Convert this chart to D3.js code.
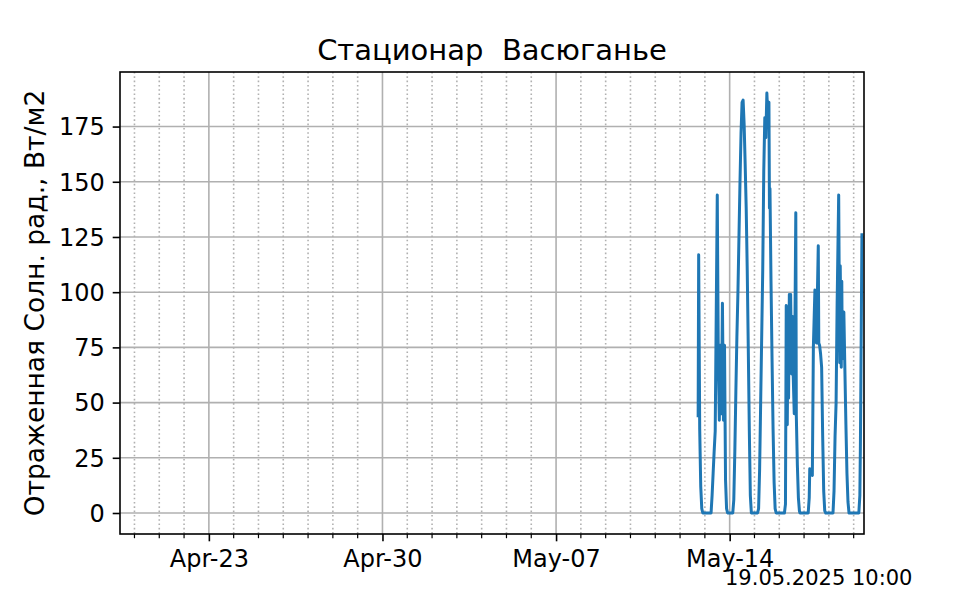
<!DOCTYPE html>
<html><head><meta charset="utf-8">
<script src="https://cdn.jsdelivr.net/npm/d3@7/dist/d3.min.js"></script>
<style>
html,body{margin:0;padding:0;background:#fff;}
text{font-family:"DejaVu Sans",sans-serif;fill:#000;}
</style></head>
<body><svg id="c" width="960" height="600"></svg>
<script>
const titleText = "Стационар  Васюганье";
const yLabelText = "Отраженная Солн. рад., Вт/м2";
const footerText = "19.05.2025 10:00";
const xStart = "2025-04-19T10:00";
const xEnd = "2025-05-19T10:00";
const xMajorTicks = ["2025-04-23T00:00","2025-04-30T00:00","2025-05-07T00:00","2025-05-14T00:00"];
const yTicks = [0,25,50,75,100,125,150,175];

const times = [
 "2025-05-12T17:30","2025-05-12T18:00","2025-05-12T19:00","2025-05-12T20:00","2025-05-12T21:00","2025-05-12T22:00",
 "2025-05-13T00:00","2025-05-13T03:00","2025-05-13T06:00","2025-05-13T07:00","2025-05-13T08:00","2025-05-13T09:00",
 "2025-05-13T10:00","2025-05-13T11:00","2025-05-13T12:00","2025-05-13T13:00","2025-05-13T14:00","2025-05-13T15:00",
 "2025-05-13T16:00","2025-05-13T17:00","2025-05-13T18:00","2025-05-13T19:00","2025-05-13T20:00","2025-05-13T21:00",
 "2025-05-13T22:00",
 "2025-05-14T00:00","2025-05-14T03:00","2025-05-14T04:00","2025-05-14T05:00","2025-05-14T06:00","2025-05-14T07:00",
 "2025-05-14T08:00","2025-05-14T09:00","2025-05-14T10:00","2025-05-14T11:00","2025-05-14T12:00","2025-05-14T13:00",
 "2025-05-14T14:00","2025-05-14T15:00","2025-05-14T16:00","2025-05-14T17:00","2025-05-14T18:00","2025-05-14T19:00",
 "2025-05-14T20:00","2025-05-14T21:00",
 "2025-05-15T00:00","2025-05-15T03:00","2025-05-15T04:00","2025-05-15T05:00","2025-05-15T06:00","2025-05-15T07:00",
 "2025-05-15T08:00","2025-05-15T09:00","2025-05-15T10:00","2025-05-15T11:00","2025-05-15T12:00","2025-05-15T13:00",
 "2025-05-15T14:00","2025-05-15T14:30","2025-05-15T15:00","2025-05-15T16:00","2025-05-15T17:00","2025-05-15T18:00",
 "2025-05-15T19:00","2025-05-15T20:00","2025-05-15T21:00",
 "2025-05-16T00:00","2025-05-16T03:00","2025-05-16T05:00","2025-05-16T06:00","2025-05-16T06:45","2025-05-16T07:45",
 "2025-05-16T08:30","2025-05-16T09:00","2025-05-16T09:45","2025-05-16T10:30","2025-05-16T11:00","2025-05-16T12:00",
 "2025-05-16T12:30","2025-05-16T13:00","2025-05-16T13:30","2025-05-16T14:30","2025-05-16T16:00","2025-05-16T16:30",
 "2025-05-16T17:30","2025-05-16T18:30","2025-05-16T19:30","2025-05-16T20:00",
 "2025-05-17T00:00","2025-05-17T03:00","2025-05-17T04:00","2025-05-17T05:00","2025-05-17T05:30","2025-05-17T07:00",
 "2025-05-17T08:00","2025-05-17T09:00","2025-05-17T10:30","2025-05-17T11:00","2025-05-17T12:00","2025-05-17T13:45",
 "2025-05-17T14:15","2025-05-17T15:00","2025-05-17T16:00","2025-05-17T17:00","2025-05-17T18:00","2025-05-17T19:00",
 "2025-05-17T20:00","2025-05-17T21:00",
 "2025-05-18T00:00","2025-05-18T03:00","2025-05-18T04:00","2025-05-18T05:00","2025-05-18T06:00","2025-05-18T07:00",
 "2025-05-18T08:00","2025-05-18T09:30","2025-05-18T10:30","2025-05-18T11:00","2025-05-18T12:00","2025-05-18T12:30",
 "2025-05-18T13:00","2025-05-18T14:30","2025-05-18T15:30","2025-05-18T16:30","2025-05-18T17:30","2025-05-18T18:30",
 "2025-05-18T19:30",
 "2025-05-19T00:00","2025-05-19T03:00","2025-05-19T05:00","2025-05-19T06:00","2025-05-19T06:30","2025-05-19T07:00",
 "2025-05-19T08:00"
];
const values = [
 44,117,38,12,2,0,
 0,0,0,8,18,28,
 37,90,144,70,42,76,
 45,95,42,76,15,2,
 0,
 0,0,6,28,55,80,
 100,125,150,172,186,187,
 176,158,138,110,75,38,
 8,0,
 0,0,2,20,50,80,
 110,155,179,170,190.2,179,
 186,138,147,105,70,38,
 14,2,0,
 0,0,0,4,94,40,
 88,52,99,65,99,63,
 80,89,62,45,136,44,
 22,7,1,0,
 0,0,0,7,20,18,
 17,75,101,96,77,121,
 77,76,72,66,35,10,
 1,0,
 0,0,0,10,35,50,
 95,144,68,112,66,105,
 70,91,65,40,18,5,
 0,
 0,0,0,8,30,60,
 126
];

const parse = d3.utcParse("%Y-%m-%dT%H:%M");
const data = times.map((t,i)=>({t:parse(t), v:values[i]}));

const L=120, R=864, T=72, B=534;
const svg = d3.select("#c");

const x = d3.scaleUtc().domain([parse(xStart), parse(xEnd)]).range([L,R]);
const vmin = d3.min(values), vmax = d3.max(values), rng = vmax - vmin;
const y = d3.scaleLinear().domain([vmin - 0.05*rng, vmax + 0.05*rng]).range([B,T]);

const majors = xMajorTicks.map(parse);
const minors = d3.utcDay.range(d3.utcDay.ceil(x.domain()[0]), x.domain()[1])
  .filter(d => !majors.some(m => +m === +d));

const grid = svg.append("g");
// minor dotted grid
grid.selectAll("line.mn").data(minors).join("line")
  .attr("x1", d=>x(d)).attr("x2", d=>x(d)).attr("y1", T).attr("y2", B)
  .attr("stroke", "#b0b0b0").attr("stroke-width", 1.6).attr("stroke-dasharray", "1.6,2.7");
// major grid
grid.selectAll("line.mx").data(majors).join("line")
  .attr("x1", d=>x(d)).attr("x2", d=>x(d)).attr("y1", T).attr("y2", B)
  .attr("stroke", "#b0b0b0").attr("stroke-width", 1.6);
grid.selectAll("line.my").data(yTicks).join("line")
  .attr("x1", L).attr("x2", R).attr("y1", d=>y(d)).attr("y2", d=>y(d))
  .attr("stroke", "#b0b0b0").attr("stroke-width", 1.6);

svg.append("clipPath").attr("id","clip").append("rect")
  .attr("x", L).attr("y", T).attr("width", R-L).attr("height", B-T);

const line = d3.line().x(d=>x(d.t)).y(d=>y(d.v));
svg.append("path").datum(data).attr("clip-path","url(#clip)")
  .attr("d", line).attr("fill","none").attr("stroke","#1f77b4")
  .attr("stroke-width", 3).attr("stroke-linejoin","round").attr("stroke-linecap","square");

// x axis
const xAxis = d3.axisBottom(x).tickValues(majors).tickFormat(d3.utcFormat("%b-%d"))
  .tickSize(7.3).tickPadding(9);
const gx = svg.append("g").attr("transform", `translate(0,${B})`).call(xAxis);
gx.select(".domain").remove();
gx.selectAll(".tick line").attr("stroke","#000").attr("stroke-width",1.6);
gx.selectAll(".tick text").attr("font-size", 24).attr("font-family","DejaVu Sans");
// minor ticks
svg.append("g").selectAll("line").data(minors).join("line")
  .attr("x1", d=>x(d)).attr("x2", d=>x(d)).attr("y1", B).attr("y2", B+4.2)
  .attr("stroke","#000").attr("stroke-width",1.2);

// y axis
const yAxis = d3.axisLeft(y).tickValues(yTicks).tickSize(7.3).tickPadding(8);
const gy = svg.append("g").attr("transform", `translate(${L},0)`).call(yAxis);
gy.select(".domain").remove();
gy.selectAll(".tick line").attr("stroke","#000").attr("stroke-width",1.6);
gy.selectAll(".tick text").attr("font-size", 24).attr("dy","0.35em").attr("font-family","DejaVu Sans");

// frame
svg.append("rect").attr("x",L).attr("y",T).attr("width",R-L).attr("height",B-T)
  .attr("fill","none").attr("stroke","#000").attr("stroke-width",1.6);

// title
svg.append("text").attr("x",(L+R)/2).attr("y",60).attr("text-anchor","middle")
  .attr("font-size",29).style("white-space","pre").text(titleText);
// y label
svg.append("text").attr("transform",`translate(43.5,${(T+B)/2}) rotate(-90)`)
  .attr("text-anchor","middle").attr("font-size",26.5).text(yLabelText);
// footer
svg.append("text").attr("x",725).attr("y",585).attr("font-size",21).text(footerText);
</script></body></html>
